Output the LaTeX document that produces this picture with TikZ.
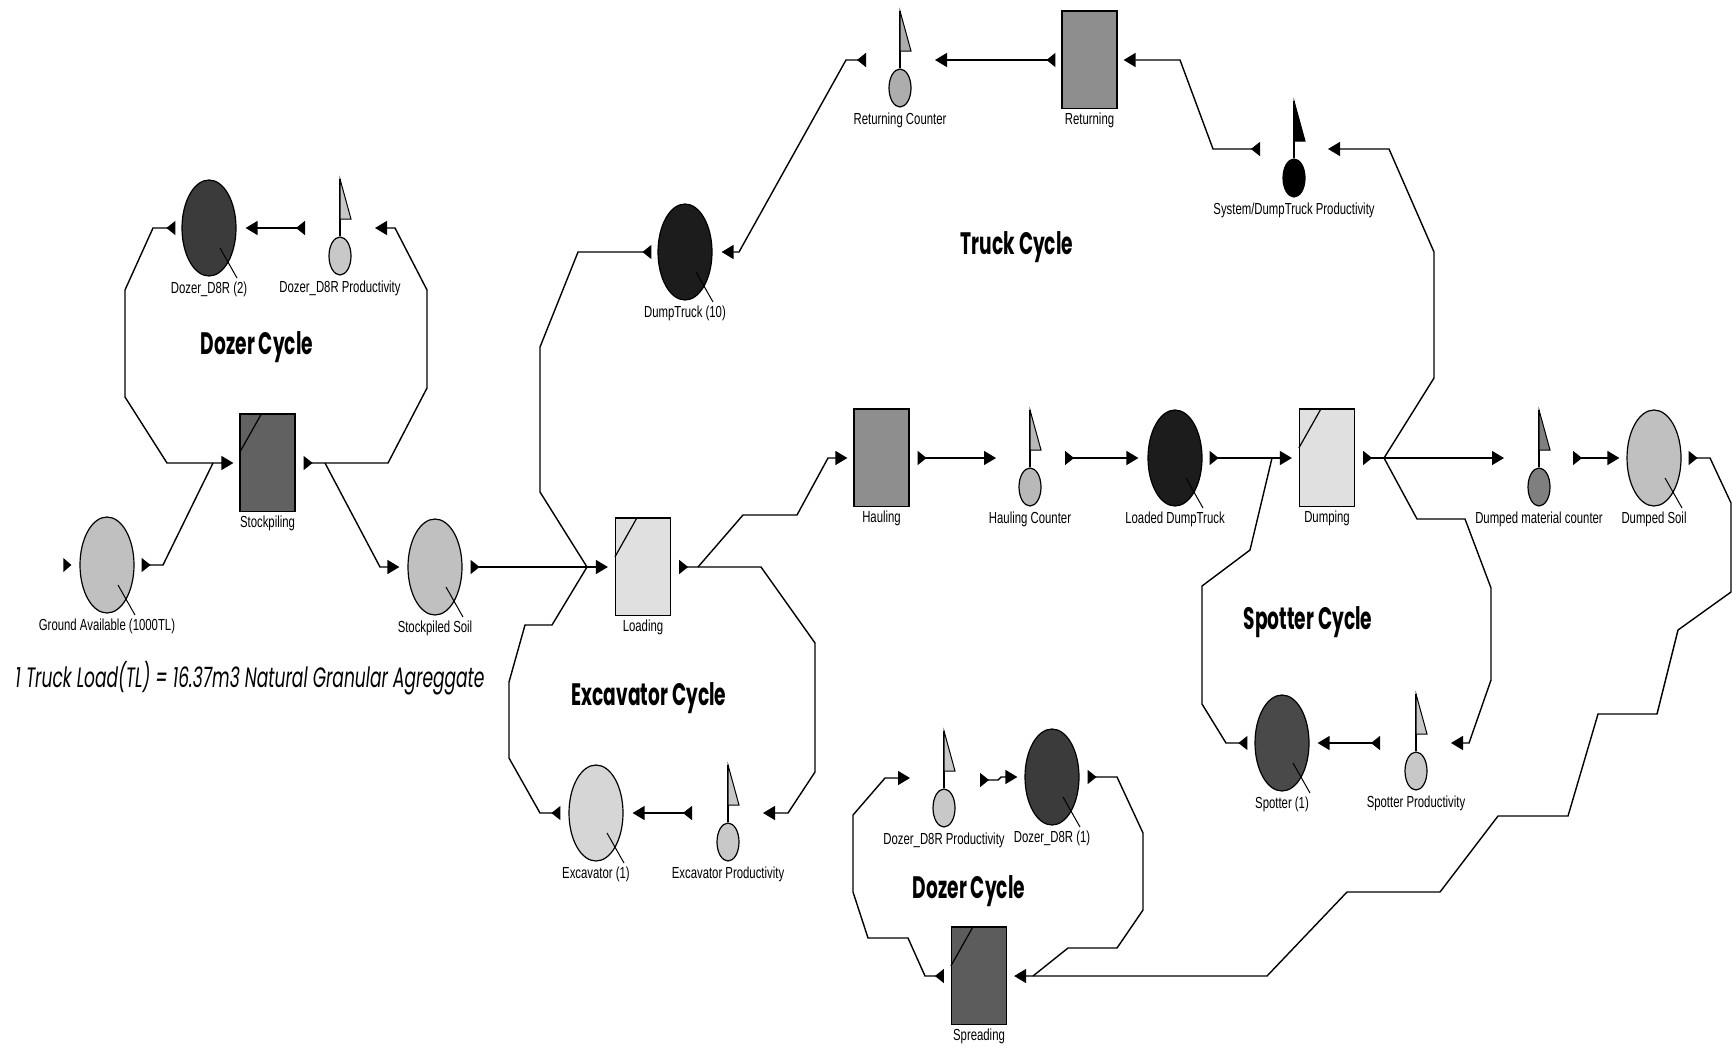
\documentclass[tikz,border=0pt]{standalone}
\usepackage{fontspec}
\setmainfont{Liberation Sans}
\newfontfamily\lblfont[FakeStretch=0.71]{Liberation Sans}
\newfontfamily\ttlfont[FakeStretch=0.6]{Poppins}
\newfontfamily\notefont[FakeStretch=0.61]{Poppins}
\usetikzlibrary{shapes.geometric,arrows.meta,calc}

\definecolor{cDozer}{HTML}{3B3B3B}
\definecolor{cSpot}{HTML}{494949}
\definecolor{cTruck}{HTML}{1C1C1C}
\definecolor{cSoil}{HTML}{C0C0C0}
\definecolor{cExc}{HTML}{D6D6D6}
\definecolor{cQL}{HTML}{C8C8C8}
\definecolor{cRC}{HTML}{ADADAD}
\definecolor{cHC}{HTML}{B8B8B8}
\definecolor{cDMC}{HTML}{7F7F7F}
\definecolor{cTDark}{HTML}{616161}
\definecolor{cTSpr}{HTML}{5C5C5C}
\definecolor{cTMid}{HTML}{8E8E8E}
\definecolor{cTLight}{HTML}{E0E0E0}

\tikzset{
  res/.style={ellipse, draw=black, line width=0.6pt, minimum width=27pt, minimum height=48pt, inner sep=0pt},
  qcirc/.style={ellipse, draw=black, line width=0.6pt, minimum width=11pt, minimum height=19pt, inner sep=0pt},
  task/.style={rectangle, draw=black, line width=0.6pt, minimum width=27.5pt, minimum height=48.5pt, inner sep=0pt},
  lbl/.style={font=\lblfont\fontsize{8pt}{9pt}\selectfont, inner sep=0pt},
  ttl/.style={font=\ttlfont\bfseries\fontsize{15.5pt}{17pt}\selectfont, inner sep=0pt},
  notestyle/.style={font=\notefont\itshape\fontsize{14pt}{16pt}\selectfont, inner sep=0pt},
  ln/.style={line width=0.7pt, line join=miter},
  flow/.style={ln, {Triangle[reversed,length=4.5pt,width=7pt]}-{Triangle[length=6pt,width=7pt]}},
  flowt/.style={ln, {Triangle[reversed,length=4.5pt,width=7pt]}-},
  flowh/.style={ln, -{Triangle[length=6pt,width=7pt]}},
  leader/.style={line width=0.5pt},
  topedge/.style={line width=1.4pt},
}

\newcommand\mkres[5]{%
  \node[res, fill=#4] (#1) at (#2,#3) {};
  \draw[leader] ($(#1.center)+(11,20)$) -- ($(#1.center)+(28,50)$);
  \node[lbl] (#1-l) at ($(#1.center)+(0,61)$) {#5};
}
\newcommand\mkqueue[5]{%
  \node[qcirc, fill=#4] (#1) at (#2,#3) {};
  \draw[line width=0.6pt] (#1.north) -- ($(#1.center)+(0,-77)$);
  \filldraw[fill=#4, line width=0.5pt] ($(#1.center)+(0,-77)$) -- ($(#1.center)+(11,-37)$) -- ($(#1.center)+(0,-37)$) -- cycle;
  \node[lbl] (#1-l) at ($(#1.center)+(0,32)$) {#5};
}
\newcommand\mktask[5]{%
  \node[task, fill=#4] (#1) at (#2,#3) {};
  \draw[topedge] (#1.north west) -- (#1.north east);
  \node[lbl] (#1-l) at ($(#1.center)+(0,60)$) {#5};
}
\newcommand\mkcombi[1]{%
  \draw[line width=0.6pt] ($(#1.north west)+(0,39)$) -- ($(#1.north west)+(22,0)$);
}

\begin{document}
\begin{tikzpicture}[x=0.5pt,y=-0.5pt]
\useasboundingbox (0,0) rectangle (1732,1049);
\fill[white] (0,0) rectangle (1732,1049);

% ---------- resources (large circles) ----------
\mkres{dz2}{209}{228}{cDozer}{Dozer\_D8R (2)}
\mkres{ga}{107}{565}{cSoil}{Ground Available (1000TL)}
\mkres{ss}{435}{567}{cSoil}{Stockpiled Soil}
\mkres{dt}{685}{252}{cTruck}{DumpTruck (10)}
\mkres{ex}{596}{813}{cExc}{Excavator (1)}
\mkres{ldt}{1175}{458}{cTruck}{Loaded DumpTruck}
\mkres{ds}{1654}{458}{cSoil}{Dumped Soil}
\mkres{sp}{1282}{743}{cSpot}{Spotter (1)}
\mkres{dz1}{1052}{777}{cDozer}{Dozer\_D8R (1)}

% ---------- queues with flags ----------
\mkqueue{dzp2}{340}{256}{cQL}{Dozer\_D8R Productivity}
\mkqueue{rc}{900}{88}{cRC}{Returning Counter}
\mkqueue{sdp}{1294}{178}{black}{System/DumpTruck Productivity}
\mkqueue{exp}{728}{842}{cQL}{Excavator Productivity}
\mkqueue{hc}{1030}{487}{cHC}{Hauling Counter}
\mkqueue{dmc}{1539}{487}{cDMC}{Dumped material counter}
\mkqueue{spp}{1416}{771}{cQL}{Spotter Productivity}
\mkqueue{dzp1}{944}{808}{cQL}{Dozer\_D8R Productivity}

% ---------- tasks ----------
\mktask{stk}{267.5}{463}{cTDark}{Stockpiling}
\mktask{ld}{643}{567}{cTLight}{Loading}
\mktask{hl}{881.5}{458}{cTMid}{Hauling}
\mktask{dp}{1327}{458}{cTLight}{Dumping}
\mktask{rt}{1089.5}{60}{cTMid}{Returning}
\mktask{spr}{979}{976}{cTSpr}{Spreading}
\mkcombi{stk}
\mkcombi{ld}
\mkcombi{dp}
\mkcombi{spr}

% ---------- titles ----------
\node[ttl] (t-dz2) at (257,347) {Dozer Cycle};
\node[ttl] (t-truck) at (1017,247) {Truck Cycle};
\node[ttl] (t-exc) at (649,698) {Excavator Cycle};
\node[ttl] (t-spot) at (1308,622) {Spotter Cycle};
\node[ttl] (t-dz1) at (969,891) {Dozer Cycle};
\node[notestyle] (note) at (250,678) {1 Truck Load(TL) = 16.37m3 Natural Granular Agreggate};

% ---------- junctions ----------
\coordinate (j1) at (325,463);
\coordinate (j2) at (587,567);
\coordinate (j3) at (698,567);
\coordinate (j4) at (1272,458);
\coordinate (j5) at (1384,458);
\coordinate (j6) at (1033,976);

% ---------- connectors ----------
% lone arrow into Ground Available
\fill ($(ga.west)+(-16,-7)$) -- ($(ga.west)+(-16,7)$) -- ($(ga.west)+(-8,0)$) -- cycle;

% dozer cycle (top)
\draw[flow] ($(dz2.west)+(-6,0)$) -- (153,228) -- (125,290) -- (125,397) -- (167,463) -- ($(stk.west)+(-6,0)$);
\draw[flowt] ($(ga.east)+(7,0)$) -- (163,565) -- (213,463);
\draw[flow] ($(stk.east)+(8,0)$) -- (388,463) -- (427,388) -- (427,290) -- (395,228) -- ($(dzp2.center)+(35,-28)$);
\draw[flowh] (j1) -- (380,567) -- ($(ss.west)+(-8,0)$);
\draw[flow] ($(dzp2.center)+(-35,-28)$) -- ($(dz2.east)+(9,0)$);

% into loading
\draw[flow] ($(ss.east)+(8,0)$) -- ($(ld.west)+(-7,0)$);
\draw[flowt] ($(dt.west)+(-6,0)$) -- (578,252) -- (540,347) -- (540,492) -- (j2);
\draw[flowt] ($(ex.west)+(-8,0)$) -- (540,813) -- (509,758) -- (509,682) -- (525,625) -- (552,625) -- (j2);

% out of loading
\draw[flow] ($(ld.east)+(8,0)$) -- (j3) -- (743,515) -- (797,515) -- (828,458) -- ($(hl.west)+(-6,0)$);
\draw[flowh] (j3) -- (761,567) -- (815,643) -- (815,772) -- (788,813) -- ($(exp.center)+(35,-29)$);
\draw[flow] ($(exp.center)+(-36,-29)$) -- ($(ex.east)+(9,0)$);

% haul chain
\draw[flow] ($(hl.east)+(8,0)$) -- ($(hc.center)+(-34,-29)$);
\draw[flow] ($(hc.center)+(35,-29)$) -- ($(ldt.west)+(-9,0)$);
\draw[flow] ($(ldt.east)+(7,0)$) -- ($(dp.west)+(-7,0)$);
\draw[flowt] ($(sp.west)+(-7,0)$) -- (1226,743) -- (1202,704) -- (1202,586) -- (1250,550) -- (j4);

% out of dumping
\draw[flow] ($(dp.east)+(8,0)$) -- (j5) -- ($(dmc.center)+(-35,-29)$);
\draw[flowh] (j5) -- (1434,378) -- (1434,252) -- (1389,149) -- ($(sdp.center)+(34,-29)$);
\draw[flowh] (j5) -- (1417,519) -- (1465,519) -- (1491,588) -- (1491,680) -- (1469,743) -- ($(spp.center)+(35,-28)$);
\draw[flow] ($(spp.center)+(-36,-28)$) -- ($(sp.east)+(8,0)$);
\draw[flow] ($(dmc.center)+(34,-29)$) -- ($(ds.west)+(-7,0)$);

% dumped soil to spreading
\draw[flow] ($(ds.east)+(7,0)$) -- (1710,458) -- (1731,503) -- (1731,592) -- (1678,630) -- (1657,714) -- (1598,714) -- (1568,816) -- (1498,816) -- (1440,892) -- (1347,892) -- (1267,976) -- (j6) -- ($(spr.east)+(7,0)$);
\draw[flowt] ($(dz1.east)+(8,0)$) -- (1117,777) -- (1143,833) -- (1143,910) -- (1117,948) -- (1068,948) -- (j6);
\draw[flow] ($(spr.west)+(-7,0)$) -- (925,976) -- (908,938) -- (868,938) -- (853,892) -- (853,815) -- (885,778) -- ($(dzp1.center)+(-34,-30)$);
\draw[flow] ($(dzp1.center)+(36,-28)$) -- (998,780) -- (1001,777) -- ($(dz1.west)+(-7,0)$);

% truck return
\draw[flow] ($(rt.west)+(-6,0)$) -- ($(rc.center)+(35,-28)$);
\draw[flow] ($(sdp.center)+(-34,-29)$) -- (1213,149) -- (1180,60) -- ($(rt.east)+(6,0)$);
\draw[flow] ($(rc.center)+(-34,-28)$) -- (846,60) -- (739,252) -- ($(dt.east)+(9,0)$);
\end{tikzpicture}
\end{document}
